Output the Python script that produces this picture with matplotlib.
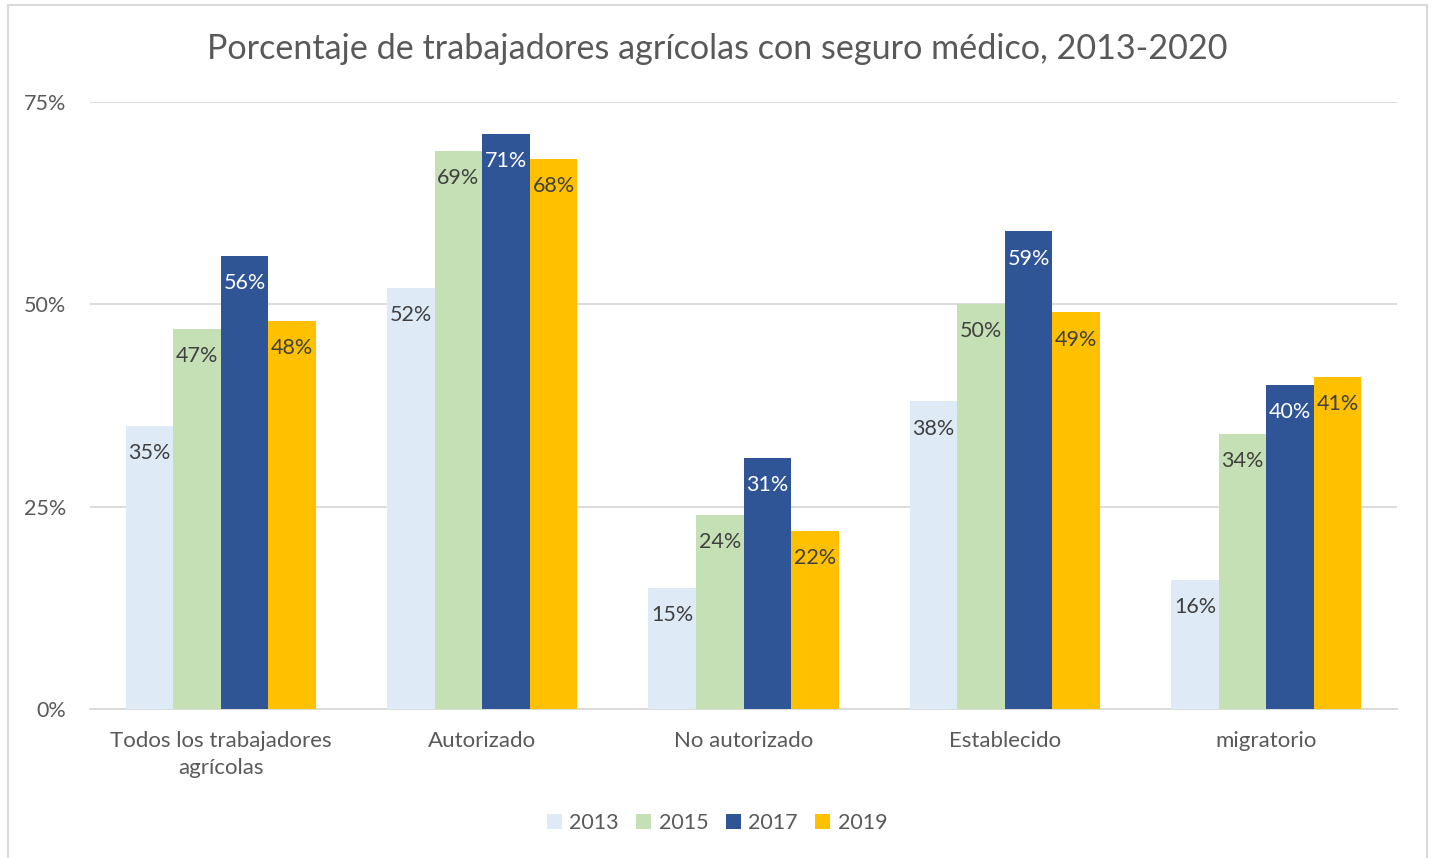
import numpy as np
import matplotlib
matplotlib.use("Agg")
import matplotlib.pyplot as plt
from matplotlib.patches import Rectangle

plt.rcParams['font.family'] = ['Lato', 'DejaVu Sans']

categories = ["Todos los trabajadores\nagrícolas", "Autorizado", "No autorizado", "Establecido", "migratorio"]
years = ["2013", "2015", "2017", "2019"]
v2013 = [35, 52, 15, 38, 16]
v2015 = [47, 69, 24, 50, 34]
v2017 = [56, 71, 31, 59, 40]
v2019 = [48, 68, 22, 49, 41]
colors = ["#DEEBF7", "#C5E0B4", "#2F5597", "#FFC000"]
label_colors = ["#404040", "#404040", "white", "#404040"]
text_col = "#595959"

fig = plt.figure(figsize=(14.34, 8.58), dpi=100, facecolor="w")
fig.patches.append(Rectangle((8/1434, -0.01), (1427-8)/1434, 1-5/858+0.01, transform=fig.transFigure,
                             fill=False, edgecolor="#D9D9D9", linewidth=1.5))
ax = fig.add_axes([90/1434, 1-709/858, (1397-90)/1434, (709-102)/858])

x = np.arange(len(categories))
w = 0.182
series = [v2013, v2015, v2017, v2019]
for i, vals in enumerate(series):
    xs = x + (i - 1.5) * w
    ax.bar(xs, np.array(vals) / 100, w, color=colors[i], label=years[i], zorder=3)
    for xi, v in zip(xs, vals):
        ax.text(xi, v / 100 - 0.0335, f"{v}%", ha="center", va="center", fontsize=15.5,
                color=label_colors[i], zorder=4)

ax.set_xlim(-0.5, len(categories) - 0.5)
ax.set_ylim(0, 0.75)
ax.set_yticks([0, 0.25, 0.5, 0.75])
ax.set_yticklabels(["0%", "25%", "50%", "75%"])
ax.yaxis.grid(True, color="#D9D9D9", linewidth=1.3, zorder=0)
ax.set_xticks(x)
ax.set_xticklabels(categories, linespacing=1.45, va="top")
ax.tick_params(axis="both", length=0, labelsize=16, colors=text_col)
ax.tick_params(axis="x", pad=16)
ax.tick_params(axis="y", pad=17, labelsize=15.5)
for s in ["top", "right", "left"]:
    ax.spines[s].set_visible(False)
ax.spines["bottom"].set_color("#D9D9D9")
ax.spines["bottom"].set_linewidth(1.3)

fig.text(0.5, 1 - 49/858, "Porcentaje de trabajadores agrícolas con seguro médico, 2013-2020",
         ha="center", va="center", fontsize=24.6, color=text_col)

fig.legend(loc="center", bbox_to_anchor=(0.5, 1 - 823/858), ncol=4, frameon=False,
           fontsize=15.5, handlelength=0.7, handleheight=0.7, handletextpad=0.35,
           columnspacing=0.8, labelcolor=text_col)

fig.savefig("out.png", dpi=100, facecolor="w")
